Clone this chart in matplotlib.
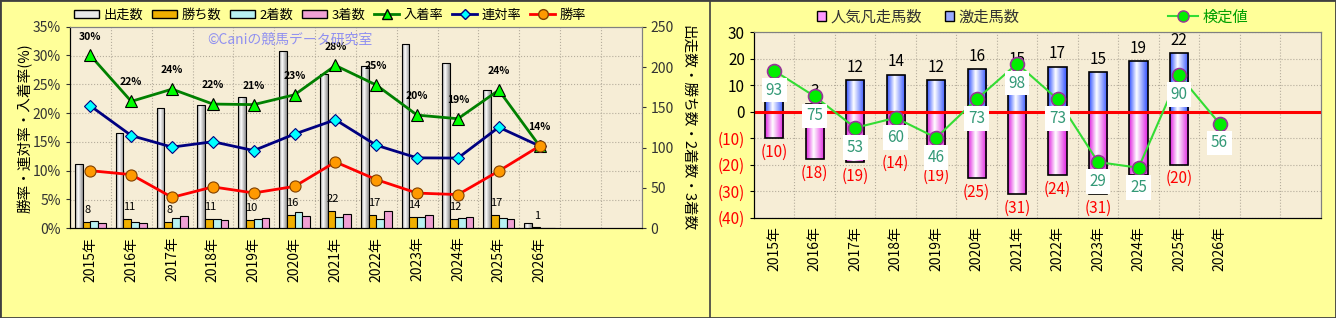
import numpy as np
import matplotlib.pyplot as plt
from matplotlib.colors import LinearSegmentedColormap
from matplotlib.patches import Patch, Rectangle
from matplotlib.lines import Line2D
from matplotlib.ticker import FixedLocator

plt.rcParams['font.family'] = ['Noto Sans CJK JP', 'DejaVu Sans']

# --- data ---
years = ['2015年', '2016年', '2017年', '2018年', '2019年', '2020年',
         '2021年', '2022年', '2023年', '2024年', '2025年', '2026年']
runs = [80, 118, 149, 153, 163, 220, 191, 201, 229, 205, 171, 7]
wins = [8, 11, 8, 11, 10, 16, 22, 17, 14, 12, 17, 1]
seconds = [9, 8, 13, 12, 12, 20, 14, 12, 14, 13, 13, 0]
thirds = [7, 7, 15, 10, 13, 15, 18, 21, 17, 14, 11, 0]

hot = [4, 3, 12, 14, 12, 16, 15, 17, 15, 19, 22, 0]       # 激走馬数
flop = [10, 18, 19, 14, 19, 25, 31, 24, 31, 24, 20, 0]    # 人気凡走馬数
score = [93, 75, 53, 60, 46, 73, 98, 73, 29, 25, 90, 56]  # 検定値

runs_a = np.array(runs, float)
win_rate = np.array(wins) / runs_a * 100
rentai_rate = (np.array(wins) + np.array(seconds)) / runs_a * 100
place_rate = (np.array(wins) + np.array(seconds) + np.array(thirds)) / runs_a * 100

W, H = 1336, 318
x = np.arange(len(years))
n_slots = 14
plot_bg = '#f6edd6'
grid_kw = dict(color='#b5ad9c', linestyle=':', linewidth=0.8)


def cyl(ax, bars, edge, center='white'):
    # cylinder-like shading for bars
    cmap = LinearSegmentedColormap.from_list('c', [(0, edge), (0.4, center), (1, edge)])
    g = np.linspace(0, 1, 100).reshape(1, -1)
    for b in bars:
        x0, w = b.get_x(), b.get_width()
        y0, h = b.get_y(), b.get_height()
        if h == 0:
            continue
        im = ax.imshow(g, cmap=cmap, extent=[x0, x0 + w, min(y0, y0 + h), max(y0, y0 + h)],
                       aspect='auto', zorder=b.get_zorder() - 0.1, interpolation='bilinear')
        im.set_clip_path(b)
        b.set_facecolor('none')


fig = plt.figure(figsize=(W / 100, H / 100), dpi=100, facecolor='#ffff99')

# ================= left chart =================
axL = fig.add_axes([70 / W, 1 - 228.3 / H, (641.7 - 70) / W, (228.3 - 26.7) / H])
axL.set_facecolor(plot_bg)
axT = axL.twinx()

bw = 0.19
b_runs = axL.bar(x - 1.5 * bw, runs, bw, edgecolor='black', linewidth=0.8, zorder=3)
cyl(axL, b_runs, '#8f8f8f')
axL.bar(x - 0.5 * bw, wins, bw, color='#f0b000', edgecolor='black', linewidth=0.8, zorder=3)
axL.bar(x + 0.5 * bw, seconds, bw, color='#b8f2f2', edgecolor='black', linewidth=0.8, zorder=3)
axL.bar(x + 1.5 * bw, thirds, bw, color='#f0a0d4', edgecolor='black', linewidth=0.8, zorder=3)
for i, w in enumerate(wins):
    axL.annotate(str(w), (x[i] - 0.5 * bw, w), xytext=(1, 5), textcoords='offset points',
                 ha='center', va='bottom', fontsize=8, zorder=6)

axL.set_xlim(-0.5, n_slots - 0.5)
axL.set_ylim(0, 250)
axL.set_yticks(range(0, 251, 50))
axL.set_xticks(x)
axL.set_xticklabels(years, rotation=90, fontsize=10)
axL.xaxis.set_minor_locator(FixedLocator(np.arange(0.5, n_slots - 0.5, 1)))
axL.yaxis.set_minor_locator(FixedLocator(np.linspace(0, 250, 8)[1:-1]))
axL.grid(which='minor', **grid_kw)
axL.tick_params(which='minor', length=0)
axL.tick_params(axis='x', length=0, pad=6)
axL.set_axisbelow(True)

# percentages on the left, counts on the right
axT.yaxis.tick_left()
axL.yaxis.tick_right()
axL.tick_params(axis='y', which='major', labelsize=10, colors='#333333', length=3)
axT.set_ylim(0, 35)
axT.set_yticks(range(0, 36, 5))
axT.set_yticklabels([f'{v}%' for v in range(0, 36, 5)])
axT.tick_params(axis='y', labelsize=10, colors='#333333', length=3)
for sp in ['right', 'top']:
    axT.spines[sp].set_color('#808080')
    axL.spines[sp].set_color('#808080')

axT.plot(x, place_rate, color='#008000', lw=2, marker='^', ms=9, mfc='#00ff00',
         mec='black', mew=0.8, zorder=5)
axT.plot(x, rentai_rate, color='#000080', lw=2, marker='D', ms=6, mfc='#00ffff',
         mec='#000080', mew=0.8, zorder=5)
axT.plot(x, win_rate, color='red', lw=2, marker='o', ms=8, mfc='#ff9900',
         mec='#804000', mew=0.8, zorder=5)
for i, p in enumerate(place_rate):
    axT.annotate(f'{round(p)}%', (x[i], p), xytext=(0, 10), textcoords='offset points',
                 ha='center', va='bottom', fontsize=7.5, fontweight='bold')

handles = [Patch(fc='#e8e8e8', ec='black'), Patch(fc='#f0b000', ec='black'),
           Patch(fc='#b8f2f2', ec='black'), Patch(fc='#f0a0d4', ec='black'),
           Line2D([], [], color='#008000', lw=2, marker='^', ms=7, mfc='#00ff00', mec='black'),
           Line2D([], [], color='#000080', lw=2, marker='D', ms=5, mfc='#00ffff', mec='#000080'),
           Line2D([], [], color='red', lw=2, marker='o', ms=7, mfc='#ff9900', mec='#804000')]
fig.legend(handles, ['出走数', '勝ち数', '2着数', '3着数', '入着率', '連対率', '勝率'],
           loc='center', bbox_to_anchor=(330 / W, 1 - 15 / H), ncol=7, frameon=False,
           fontsize=9.5, handlelength=1.9, handleheight=0.5, handletextpad=0.3,
           columnspacing=0.7)

fig.text(207 / W, 1 - 40 / H, '©Caniの競馬データ研究室', color='#9090f0', fontsize=10, va='center')
fig.text(25 / W, 1 - 128 / H, '勝率・連対率・入着率(%)', rotation=90, ha='center', va='center', fontsize=10.5)
fig.text(688 / W, 1 - 128 / H, '出走数・勝ち数・2着数・3着数', rotation=-90, ha='center', va='center', fontsize=10.5)

# ================= right chart =================
axB = fig.add_axes([754 / W, 1 - 217.7 / H, (1320.7 - 754) / W, (217.7 - 32.2) / H])
axB.set_facecolor(plot_bg)
bw2 = 0.45
b_hot = axB.bar(x, hot, bw2, edgecolor='black', linewidth=1.2, zorder=3)
cyl(axB, b_hot, '#3050ff')
b_flop = axB.bar(x, [-v for v in flop], bw2, edgecolor='black', linewidth=1.2, zorder=3)
cyl(axB, b_flop, '#e020e0')
axB.axhline(0, color='red', lw=2.2, zorder=4)
for i in range(len(years)):
    if hot[i]:
        axB.annotate(str(hot[i]), (x[i], hot[i]), xytext=(0, 3), textcoords='offset points',
                     ha='center', va='bottom', fontsize=11, zorder=6)
    if flop[i]:
        axB.annotate(f'({flop[i]})', (x[i], -flop[i]), xytext=(0, -4), textcoords='offset points',
                     ha='center', va='top', fontsize=11, color='red', zorder=6)

axB.set_xlim(-0.5, n_slots - 0.5)
axB.set_ylim(-40, 30)
yt = list(range(-40, 31, 10))
axB.set_yticks(yt, labels=[f'({-v})' if v < 0 else str(v) for v in yt])
for lbl in axB.get_yticklabels():
    if lbl.get_text().startswith('('):
        lbl.set_color('red')
axB.tick_params(axis='y', labelsize=11, length=3)
axB.set_xticks(x)
axB.set_xticklabels(years, rotation=90, fontsize=10)
axB.tick_params(axis='x', length=0, pad=6)
axB.xaxis.set_minor_locator(FixedLocator(np.arange(0.5, n_slots - 0.5, 1)))
axB.tick_params(which='minor', length=0)
axB.grid(which='minor', axis='x', **grid_kw)
axB.grid(which='major', axis='y', **grid_kw)
axB.set_axisbelow(True)

axS = axB.twinx()
axS.set_ylim(-10, 120)
axS.set_yticks([])
for sp in ['right', 'top']:
    axS.spines[sp].set_color('#808080')
    axB.spines[sp].set_color('#808080')
axS.plot(x, score, color='#33dd33', lw=1.5, marker='o', ms=10, mfc='#00ee00',
         mec='#993399', mew=1.2, zorder=5)
for i, s in enumerate(score):
    axS.annotate(str(s), (x[i], s), xytext=(0, -14), textcoords='offset points',
                 ha='center', va='center', fontsize=11, color='#339977', zorder=6,
                 bbox=dict(boxstyle='square,pad=0.25', fc='white', ec='none'))

leg1 = fig.legend([Patch(fc='#ff99ff', ec='black'), Patch(fc='#99aaff', ec='black')],
                  ['人気凡走馬数', '激走馬数'], loc='center',
                  bbox_to_anchor=(918 / W, 1 - 17 / H), ncol=2, frameon=False, fontsize=11,
                  handlelength=0.6, handleheight=0.6, handletextpad=0.3, columnspacing=1.5)
for t in leg1.get_texts():
    t.set_color('#333333')
leg2 = fig.legend([Line2D([], [], color='#33dd33', lw=1.5, marker='o', ms=8, mfc='#00ee00',
                          mec='#993399')], ['検定値'], loc='center',
                  bbox_to_anchor=(1208 / W, 1 - 17 / H), frameon=False, fontsize=11,
                  handlelength=2.0, handletextpad=0.3)
leg2.get_texts()[0].set_color('#00a000')

# panel borders
fig.add_artist(Rectangle((0, 0), 1, 1, transform=fig.transFigure, fill=False, ec='#404040', lw=2))
fig.add_artist(Line2D([710 / W, 710 / W], [0, 1], transform=fig.transFigure, color='#404040', lw=1.2))

fig.savefig('out.png', dpi=100, facecolor=fig.get_facecolor())
